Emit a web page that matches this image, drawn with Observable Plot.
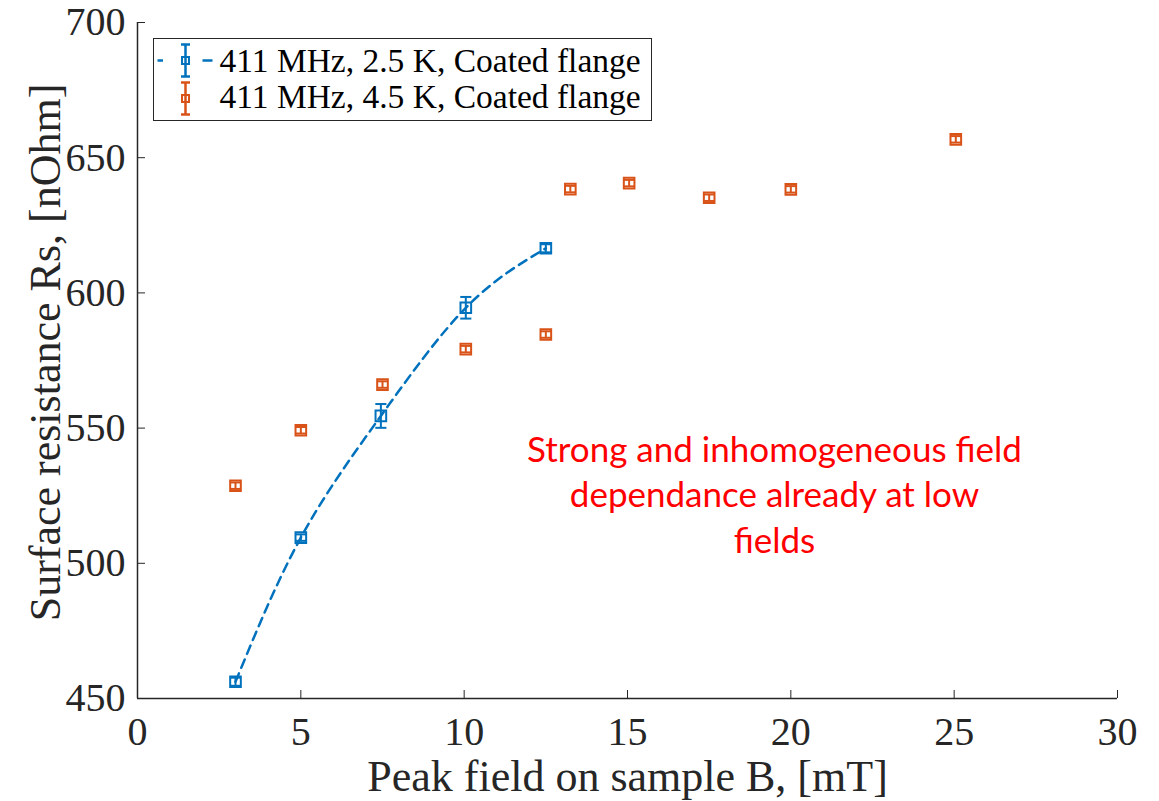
<!DOCTYPE html>
<html>
<head>
<meta charset="utf-8">
<script src="https://cdn.jsdelivr.net/npm/d3@7"></script>
<script src="https://cdn.jsdelivr.net/npm/@observablehq/plot@0.6"></script>
<style>
  html, body { margin: 0; padding: 0; background: #fff; }
  #wrap { position: relative; width: 1159px; height: 801px; }
  #legend { position: absolute; left: 153px; top: 38px; width: 497px; height: 81px;
            border: 1.5px solid #262626; background: #fff; }
</style>
</head>
<body>
<div id="wrap">
  <div id="chart"></div>
  <div id="legend">
    <svg width="497" height="81" style="font-family:'Liberation Serif','Times New Roman',serif;">
      <g stroke="#0072BD" stroke-width="2.5" fill="none">
        <line x1="3.5" x2="9" y1="21.5" y2="21.5"/>
        <line x1="48.5" x2="58.5" y1="21.5" y2="21.5"/>
        <line x1="31.5" x2="31.5" y1="5.5" y2="37.5"/>
        <line x1="27" x2="36" y1="5.5" y2="5.5"/>
        <line x1="27" x2="36" y1="37.5" y2="37.5"/>
        <rect x="28" y="18" width="7" height="7" stroke-width="2"/>
      </g>
      <g stroke="#D95319" stroke-width="2.5" fill="none">
        <line x1="31.5" x2="31.5" y1="43.5" y2="75.5"/>
        <line x1="27" x2="36" y1="43.5" y2="43.5"/>
        <line x1="27" x2="36" y1="75.5" y2="75.5"/>
        <rect x="28" y="56" width="7" height="7" stroke-width="2"/>
      </g>
      <text x="65.5" y="33" font-size="33.5" fill="#000">411 MHz, 2.5 K, Coated flange</text>
      <text x="65.5" y="69" font-size="33.5" fill="#000">411 MHz, 4.5 K, Coated flange</text>
    </svg>
  </div>
</div>
<script>
// Series: 411 MHz, 2.5 K (blue)
const xBlue = [3, 5, 7.45, 10.05, 12.5];
const yBlue = [456.2, 509.5, 554.5, 594.5, 616.5];
const eBlue = [1.5, 1.2, 4.4, 4.0, 1.5];
// Series: 411 MHz, 4.5 K (orange)
const xOrange = [3, 5, 7.5, 10.05, 12.5, 13.25, 15.05, 17.5, 20, 25.05];
const yOrange = [528.7, 549.2, 566.1, 579.2, 584.6, 638.4, 640.6, 635.2, 638.3, 656.8];
const eOrange = [1.2, 1.2, 1.2, 1.2, 1.2, 1.2, 1.2, 1.2, 1.2, 1.2];
// Ticks
const xTicks = [0, 5, 10, 15, 20, 25, 30];
const yTicks = [450, 500, 550, 600, 650, 700];
const note = "Strong and inhomogeneous field\ndependance already at low\nfields";

const blue = "#0072BD", orange = "#D95319", axisCol = "#262626";
const mk = (xs, ys, es) => xs.map((x, i) => ({x, y: ys[i], lo: ys[i] - es[i], hi: ys[i] + es[i]}));
const B = mk(xBlue, yBlue, eBlue);
const O = mk(xOrange, yOrange, eOrange);
const cap = 0.17;

function errMarks(data, color) {
  return [
    Plot.ruleX(data, {x: "x", y1: "lo", y2: "hi", stroke: color, strokeWidth: 2}),
    Plot.link(data, {x1: d => d.x - cap, x2: d => d.x + cap, y1: "lo", y2: "lo", stroke: color, strokeWidth: 2}),
    Plot.link(data, {x1: d => d.x - cap, x2: d => d.x + cap, y1: "hi", y2: "hi", stroke: color, strokeWidth: 2}),
    Plot.dot(data, {x: "x", y: "y", symbol: "square", r: 6, stroke: color, strokeWidth: 2, fill: "none"})
  ];
}

const chart = Plot.plot({
  width: 1159,
  height: 801,
  marginLeft: 137,
  marginRight: 42,
  marginTop: 22,
  marginBottom: 103,
  style: {fontFamily: "'Liberation Serif','Times New Roman',serif", background: "#fff", overflow: "visible"},
  x: {domain: [0, 30]},
  y: {domain: [450, 700]},
  marks: [
    Plot.axisX({ticks: xTicks, tickSize: -8, tickPadding: 26, tickFormat: d => String(d), fontSize: 40, stroke: axisCol, color: axisCol, label: null}),
    Plot.axisY({ticks: yTicks, tickSize: -8, tickPadding: 20, tickFormat: d => String(d), fontSize: 40, stroke: axisCol, color: axisCol, label: null}),
    Plot.ruleX([0], {stroke: axisCol, strokeWidth: 1.5}),
    Plot.ruleY([450], {stroke: axisCol, strokeWidth: 1.5}),
    Plot.line(B, {x: "x", y: "y", stroke: blue, strokeWidth: 2.5, strokeDasharray: "9,6", curve: "natural"}),
    ...errMarks(O, orange),
    ...errMarks(B, blue),
    Plot.text([note], {x: 19.5, y: 526, text: d => d, fill: "#FF0000", fontSize: 35, lineHeight: 1.29,
                       fontFamily: "Lato, 'Open Sans', sans-serif", textAnchor: "middle"}),
    Plot.text(["Peak field on sample B, [mT]"], {frameAnchor: "bottom", dy: 78, text: d => d, fontSize: 44, fill: axisCol, lineAnchor: "middle", textAnchor: "middle"}),
    Plot.text(["Surface resistance Rs, [nOhm]"], {frameAnchor: "left", dx: -92, dy: -8, rotate: -90, text: d => d, fontSize: 44, fill: axisCol, lineAnchor: "middle", textAnchor: "middle"})
  ]
});
document.getElementById("chart").appendChild(chart);
</script>
</body>
</html>
